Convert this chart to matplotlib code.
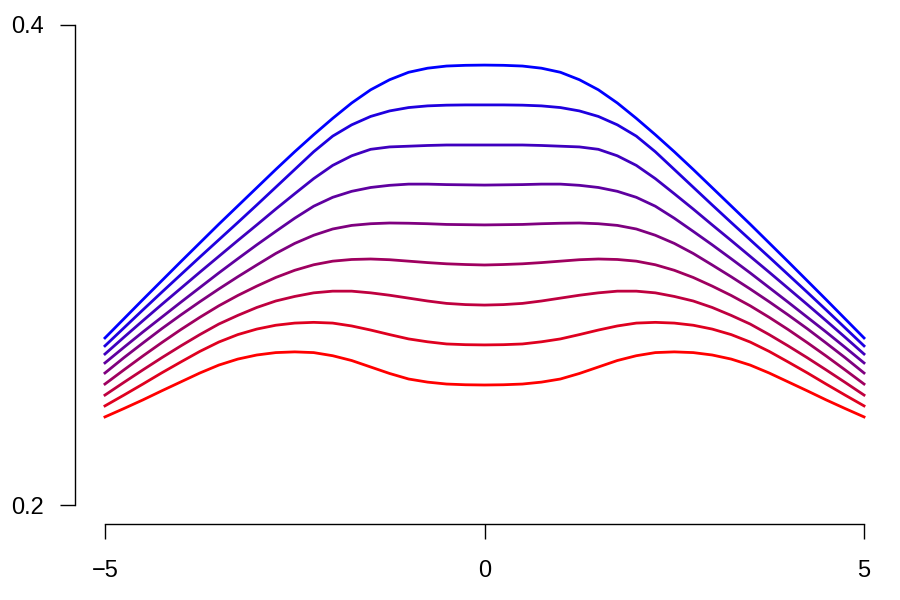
import numpy as np
import matplotlib
matplotlib.use("Agg")
import matplotlib.pyplot as plt

plt.rcParams['font.family'] = ['Liberation Sans', 'DejaVu Sans']

## x grid the curves were read on (-5 to 5, step 0.25)
x = np.linspace(-5, 5, 41)

## curves, bottom (red) to top (blue)
curve1 = [0.2367, 0.2402, 0.2438, 0.2476, 0.2513, 0.2550, 0.2583, 0.2608, 0.2625, 0.2635, 0.2638,
          0.2635, 0.2622, 0.2602, 0.2575, 0.2548, 0.2525, 0.2512, 0.2504, 0.2501, 0.2500,
          0.2501, 0.2504, 0.2512, 0.2525, 0.2548, 0.2575, 0.2602, 0.2622, 0.2635, 0.2638,
          0.2635, 0.2625, 0.2608, 0.2583, 0.2550, 0.2513, 0.2476, 0.2438, 0.2402, 0.2367]
curve2 = [0.2413, 0.2458, 0.2504, 0.2551, 0.2596, 0.2640, 0.2679, 0.2710, 0.2733, 0.2749, 0.2758,
          0.2761, 0.2758, 0.2746, 0.2729, 0.2710, 0.2692, 0.2680, 0.2671, 0.2668, 0.2667,
          0.2668, 0.2671, 0.2680, 0.2692, 0.2710, 0.2729, 0.2746, 0.2758, 0.2761, 0.2758,
          0.2749, 0.2733, 0.2710, 0.2679, 0.2640, 0.2596, 0.2551, 0.2504, 0.2458, 0.2413]
curve3 = [0.2458, 0.2511, 0.2563, 0.2614, 0.2663, 0.2710, 0.2754, 0.2790, 0.2823, 0.2850, 0.2869,
          0.2884, 0.2891, 0.2891, 0.2884, 0.2874, 0.2862, 0.2850, 0.2840, 0.2835, 0.2833,
          0.2835, 0.2840, 0.2850, 0.2862, 0.2874, 0.2884, 0.2891, 0.2891, 0.2884, 0.2869,
          0.2850, 0.2823, 0.2790, 0.2754, 0.2710, 0.2663, 0.2614, 0.2563, 0.2511, 0.2458]
curve4 = [0.2504, 0.2563, 0.2621, 0.2677, 0.2731, 0.2782, 0.2830, 0.2873, 0.2912, 0.2948, 0.2978,
          0.3001, 0.3016, 0.3023, 0.3025, 0.3022, 0.3016, 0.3010, 0.3005, 0.3002, 0.3000,
          0.3002, 0.3005, 0.3010, 0.3016, 0.3022, 0.3025, 0.3023, 0.3016, 0.3001, 0.2978,
          0.2948, 0.2912, 0.2873, 0.2830, 0.2782, 0.2731, 0.2677, 0.2621, 0.2563, 0.2504]
curve5 = [0.2550, 0.2614, 0.2675, 0.2735, 0.2792, 0.2847, 0.2900, 0.2951, 0.3000, 0.3048, 0.3090,
          0.3124, 0.3150, 0.3165, 0.3172, 0.3175, 0.3174, 0.3172, 0.3169, 0.3168, 0.3167,
          0.3168, 0.3169, 0.3172, 0.3174, 0.3175, 0.3172, 0.3165, 0.3150, 0.3124, 0.3090,
          0.3048, 0.3000, 0.2951, 0.2900, 0.2847, 0.2792, 0.2735, 0.2675, 0.2614, 0.2550]
curve6 = [0.2592, 0.2657, 0.2721, 0.2783, 0.2845, 0.2906, 0.2967, 0.3026, 0.3084, 0.3140, 0.3195,
          0.3245, 0.3282, 0.3307, 0.3323, 0.3332, 0.3337, 0.3337, 0.3335, 0.3334, 0.3333,
          0.3334, 0.3335, 0.3337, 0.3337, 0.3332, 0.3323, 0.3307, 0.3282, 0.3245, 0.3195,
          0.3140, 0.3084, 0.3026, 0.2967, 0.2906, 0.2845, 0.2783, 0.2721, 0.2657, 0.2592]
curve7 = [0.2629, 0.2699, 0.2768, 0.2836, 0.2903, 0.2970, 0.3036, 0.3102, 0.3167, 0.3233, 0.3297,
          0.3360, 0.3415, 0.3455, 0.3482, 0.3492, 0.3495, 0.3498, 0.3500, 0.3500, 0.3500,
          0.3500, 0.3500, 0.3498, 0.3495, 0.3492, 0.3482, 0.3455, 0.3415, 0.3360, 0.3297,
          0.3233, 0.3167, 0.3102, 0.3036, 0.2970, 0.2903, 0.2836, 0.2768, 0.2699, 0.2629]
curve8 = [0.2663, 0.2738, 0.2813, 0.2887, 0.2960, 0.3033, 0.3105, 0.3177, 0.3250, 0.3324, 0.3398,
          0.3472, 0.3537, 0.3584, 0.3619, 0.3642, 0.3656, 0.3663, 0.3666, 0.3667, 0.3667,
          0.3667, 0.3666, 0.3663, 0.3656, 0.3642, 0.3619, 0.3584, 0.3537, 0.3472, 0.3398,
          0.3324, 0.3250, 0.3177, 0.3105, 0.3033, 0.2960, 0.2887, 0.2813, 0.2738, 0.2663]
curve9 = [0.2696, 0.2776, 0.2856, 0.2935, 0.3014, 0.3092, 0.3170, 0.3246, 0.3322, 0.3398, 0.3472,
          0.3543, 0.3611, 0.3675, 0.3730, 0.3772, 0.3803, 0.3820, 0.3829, 0.3832, 0.3833,
          0.3832, 0.3829, 0.3820, 0.3803, 0.3772, 0.3730, 0.3675, 0.3611, 0.3543, 0.3472,
          0.3398, 0.3322, 0.3246, 0.3170, 0.3092, 0.3014, 0.2935, 0.2856, 0.2776, 0.2696]

curves = [curve1, curve2, curve3, curve4, curve5, curve6, curve7, curve8, curve9]
colors = ["#FF0000", "#DF001F", "#BF003F", "#9F005F", "#7F007F",
          "#5F009F", "#3F00BF", "#1F00DF", "#0000FF"]

xticks = [-5, 0, 5]
xlabels = ["\u22125", "0", "5"]
yticks = [0.2, 0.4]
ylabels = ["0.2", "0.4"]

fig = plt.figure(figsize=(9, 6), dpi=100)
# plot region like R's base graphics (4% padding around the data range)
ax = fig.add_axes([74.6/900, 1 - 524.2/600, (894.4 - 74.6)/900, (524.2 - 5.8)/600])

for c, col in zip(curves, colors):
    ax.plot(x, c, color=col, lw=2.0)

ax.set_xlim(-5.4, 5.4)
ax.set_ylim(0.192, 0.408)

for s in ['top', 'right']:
    ax.spines[s].set_visible(False)
ax.spines['left'].set_bounds(0.2, 0.4)
ax.spines['bottom'].set_bounds(-5, 5)
ax.spines['left'].set_linewidth(1.0)
ax.spines['bottom'].set_linewidth(1.0)

ax.set_xticks(xticks)
ax.set_xticklabels(xlabels)
ax.set_yticks(yticks)
ax.set_yticklabels(ylabels)
ax.tick_params(axis='both', direction='out', length=11, width=1.0, labelsize=17)
ax.tick_params(axis='x', pad=15)
ax.tick_params(axis='y', pad=11)

fig.savefig("out.png", dpi=100)
